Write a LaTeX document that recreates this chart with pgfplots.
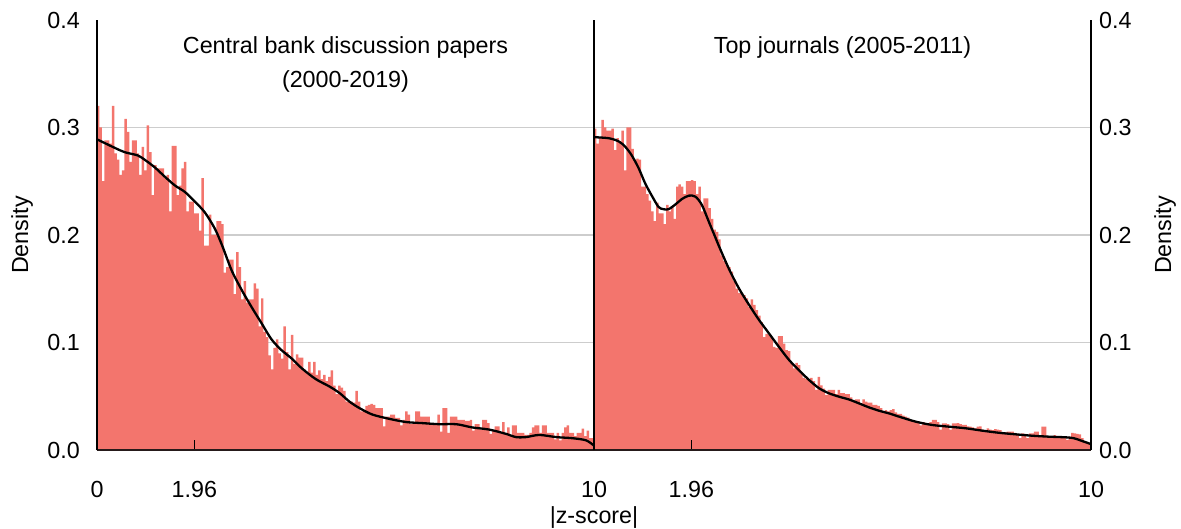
\documentclass[border=0pt]{standalone}
\usepackage{pgfplots}
\usepackage{pgfplotstable}
\pgfplotsset{compat=1.18}
\usepackage{fontspec}
\setmainfont{Liberation Sans}
\newcommand\chartfont{\fontsize{23.3bp}{28bp}\selectfont}
\definecolor{barfill}{RGB}{243,117,109}
\definecolor{gridgray}{RGB}{205,205,205}
\definecolor{baseline}{RGB}{38,26,26}

% Histogram bin heights, bins of width 0.05 on |z| in [0,10]
% (last row repeats the final bin so the step reaches x = 10)
\pgfplotstableread[row sep=\\, header=false]{
0.320\\ 0.300\\ 0.250\\ 0.288\\ 0.288\\ 0.285\\ 0.320\\ 0.276\\ 0.270\\ 0.256\\
0.260\\ 0.308\\ 0.296\\ 0.268\\ 0.288\\ 0.288\\ 0.276\\ 0.256\\ 0.282\\ 0.260\\
0.302\\ 0.277\\ 0.237\\ 0.265\\ 0.262\\ 0.262\\ 0.262\\ 0.253\\ 0.256\\ 0.222\\
0.283\\ 0.283\\ 0.237\\ 0.246\\ 0.262\\ 0.268\\ 0.222\\ 0.231\\ 0.231\\ 0.220\\
0.220\\ 0.204\\ 0.253\\ 0.190\\ 0.190\\ 0.219\\ 0.200\\ 0.200\\ 0.213\\ 0.213\\
0.210\\ 0.165\\ 0.170\\ 0.177\\ 0.177\\ 0.145\\ 0.184\\ 0.170\\ 0.140\\ 0.157\\
0.137\\ 0.140\\ 0.140\\ 0.155\\ 0.150\\ 0.115\\ 0.141\\ 0.110\\ 0.105\\ 0.088\\
0.075\\ 0.095\\ 0.103\\ 0.090\\ 0.085\\ 0.115\\ 0.091\\ 0.075\\ 0.107\\ 0.080\\
0.089\\ 0.086\\ 0.086\\ 0.075\\ 0.073\\ 0.082\\ 0.072\\ 0.082\\ 0.070\\ 0.074\\
0.066\\ 0.070\\ 0.064\\ 0.068\\ 0.074\\ 0.060\\ 0.052\\ 0.060\\ 0.058\\ 0.055\\
0.045\\ 0.045\\ 0.045\\ 0.044\\ 0.055\\ 0.045\\ 0.036\\ 0.037\\ 0.041\\ 0.042\\
0.043\\ 0.042\\ 0.039\\ 0.039\\ 0.039\\ 0.022\\ 0.031\\ 0.031\\ 0.033\\ 0.033\\
0.030\\ 0.030\\ 0.023\\ 0.028\\ 0.036\\ 0.033\\ 0.024\\ 0.024\\ 0.036\\ 0.036\\
0.031\\ 0.031\\ 0.031\\ 0.031\\ 0.024\\ 0.024\\ 0.024\\ 0.033\\ 0.017\\ 0.039\\
0.039\\ 0.016\\ 0.031\\ 0.031\\ 0.031\\ 0.028\\ 0.028\\ 0.028\\ 0.027\\ 0.027\\
0.028\\ 0.018\\ 0.024\\ 0.024\\ 0.019\\ 0.028\\ 0.028\\ 0.025\\ 0.015\\ 0.018\\
0.022\\ 0.022\\ 0.016\\ 0.026\\ 0.015\\ 0.021\\ 0.013\\ 0.023\\ 0.023\\ 0.016\\
0.016\\ 0.016\\ 0.014\\ 0.014\\ 0.016\\ 0.021\\ 0.023\\ 0.023\\ 0.016\\ 0.023\\
0.023\\ 0.016\\ 0.016\\ 0.016\\ 0.010\\ 0.016\\ 0.009\\ 0.016\\ 0.021\\ 0.023\\
0.016\\ 0.016\\ 0.013\\ 0.016\\ 0.016\\ 0.020\\ 0.013\\ 0.018\\ 0.011\\ 0.011\\
0.011\\
}\cbbars

\pgfplotstableread[row sep=\\, header=false]{
0.299\\ 0.285\\ 0.290\\ 0.307\\ 0.300\\ 0.297\\ 0.297\\ 0.299\\ 0.279\\ 0.290\\
0.287\\ 0.297\\ 0.260\\ 0.300\\ 0.300\\ 0.280\\ 0.270\\ 0.271\\ 0.270\\ 0.245\\
0.245\\ 0.238\\ 0.232\\ 0.222\\ 0.213\\ 0.230\\ 0.220\\ 0.220\\ 0.210\\ 0.228\\
0.222\\ 0.226\\ 0.215\\ 0.245\\ 0.247\\ 0.245\\ 0.238\\ 0.250\\ 0.250\\ 0.251\\
0.250\\ 0.238\\ 0.245\\ 0.222\\ 0.234\\ 0.234\\ 0.225\\ 0.215\\ 0.205\\ 0.203\\
0.196\\ 0.181\\ 0.176\\ 0.172\\ 0.170\\ 0.166\\ 0.157\\ 0.150\\ 0.146\\ 0.146\\
0.144\\ 0.141\\ 0.133\\ 0.140\\ 0.135\\ 0.130\\ 0.125\\ 0.119\\ 0.105\\ 0.108\\
0.107\\ 0.105\\ 0.096\\ 0.095\\ 0.106\\ 0.106\\ 0.099\\ 0.093\\ 0.092\\ 0.081\\
0.076\\ 0.081\\ 0.079\\ 0.071\\ 0.067\\ 0.066\\ 0.066\\ 0.067\\ 0.064\\ 0.056\\
0.068\\ 0.060\\ 0.057\\ 0.051\\ 0.056\\ 0.056\\ 0.056\\ 0.052\\ 0.056\\ 0.053\\
0.053\\ 0.052\\ 0.052\\ 0.049\\ 0.045\\ 0.047\\ 0.047\\ 0.043\\ 0.047\\ 0.045\\
0.044\\ 0.044\\ 0.042\\ 0.042\\ 0.041\\ 0.039\\ 0.036\\ 0.037\\ 0.036\\ 0.037\\
0.038\\ 0.035\\ 0.0335\\ 0.0335\\ 0.032\\ 0.031\\ 0.030\\ 0.028\\ 0.0265\\ 0.0265\\
0.0265\\ 0.023\\ 0.026\\ 0.025\\ 0.025\\ 0.026\\ 0.028\\ 0.028\\ 0.026\\ 0.019\\
0.0248\\ 0.0248\\ 0.024\\ 0.019\\ 0.0248\\ 0.0248\\ 0.025\\ 0.024\\ 0.0233\\ 0.0233\\
0.022\\ 0.0217\\ 0.021\\ 0.0202\\ 0.0217\\ 0.022\\ 0.019\\ 0.017\\ 0.0202\\ 0.019\\
0.0185\\ 0.0195\\ 0.019\\ 0.0185\\ 0.016\\ 0.0165\\ 0.017\\ 0.017\\ 0.017\\ 0.016\\
0.0146\\ 0.011\\ 0.0155\\ 0.015\\ 0.011\\ 0.0155\\ 0.0155\\ 0.017\\ 0.017\\ 0.013\\
0.0217\\ 0.0217\\ 0.013\\ 0.0124\\ 0.0124\\ 0.0139\\ 0.012\\ 0.0115\\ 0.0115\\ 0.011\\
0.0095\\ 0.0124\\ 0.016\\ 0.0155\\ 0.0149\\ 0.0145\\ 0.011\\ 0.0084\\ 0.007\\ 0.006\\
0.006\\
}\tjbars

\tikzset{gridrules/.style={gridgray, line width=1.5bp}}

\pgfplotsset{
  panel/.style={
    scale only axis, width=497bp, height=430bp,
    xmin=0, xmax=10, ymin=0, ymax=0.4,
    axis on top, clip=false,
    separate axis lines,
    axis x line*=bottom, axis y line*=box,
    x axis line style={draw=baseline, line width=2.8bp, -},
    y axis line style={draw=black, line width=1.8bp, -},
    ytick={0,0.1,0.2,0.3,0.4},
    /pgf/number format/assume math mode=true,
    yticklabel={\pgfmathprintnumber[fixed,fixed zerofill,precision=1]{\tick}},
    ytick style={draw=none},
    xtick style={draw=black, line width=1.4bp},
    tick align=inside, major tick length=10bp,
    tick label style={font=\chartfont},
    xticklabel style={anchor=north, inner sep=0pt, yshift=-31bp},
  },
  bars/.style={const plot mark left, fill=barfill, draw=none},
  kde/.style={black, line width=2.3bp, smooth, tension=0.5},
}

\begin{document}
\begin{tikzpicture}[font=\chartfont]
\path[use as bounding box] (-97bp,-79bp) rectangle (1084bp,450bp);

% Central bank discussion papers
\begin{axis}[panel,
  xtick={0,1.96,10}, xticklabels={0,1.96,10},
  yticklabel style={anchor=east, inner sep=0pt, xshift=-17bp}]
  \draw[gridrules] (axis cs:0,0.1) -- (axis cs:10,0.1);
  \draw[gridrules] (axis cs:0,0.2) -- (axis cs:10,0.2);
  \draw[gridrules] (axis cs:0,0.3) -- (axis cs:10,0.3);
  \addplot[bars] table[x expr=\coordindex*0.05, y index=0] {\cbbars} \closedcycle;
  \addplot[kde] coordinates {
    (0,0.289)(0.36,0.281)(0.56,0.277)(0.82,0.274)(0.96,0.270)(1.16,0.263)
    (1.37,0.254)(1.57,0.246)(1.77,0.240)(1.97,0.231)(2.17,0.221)(2.37,0.206)
    (2.52,0.190)(2.71,0.167)(2.91,0.149)(3.11,0.133)(3.31,0.118)(3.51,0.103)
    (3.71,0.093)(3.92,0.085)(4.12,0.076)(4.40,0.066)(4.68,0.059)(4.88,0.053)
    (5.08,0.045)(5.28,0.039)(5.54,0.033)(5.88,0.029)(6.22,0.026)(6.55,0.025)
    (6.89,0.024)(7.23,0.024)(7.55,0.021)(7.89,0.019)(8.23,0.015)(8.43,0.012)
    (8.63,0.012)(8.90,0.014)(9.24,0.012)(9.56,0.011)(9.84,0.009)(10,0.004)};
  \node at ([yshift=-27bp]rel axis cs:0.5,1) {Central bank discussion papers};
  \node at ([yshift=-61bp]rel axis cs:0.5,1) {(2000-2019)};
  \node[rotate=90] at ([xshift=-75bp]rel axis cs:0,0.5) {Density};
  \node at ([yshift=-68bp]rel axis cs:1,0) {|z-score|};
\end{axis}

% Top journals
\begin{axis}[panel, at={(497bp,0)},
  xtick={1.96,10}, xticklabels={1.96,10},
  yticklabel pos=right,
  yticklabel style={anchor=west, inner sep=0pt, xshift=8bp}]
  \draw[gridrules] (axis cs:0,0.1) -- (axis cs:10,0.1);
  \draw[gridrules] (axis cs:0,0.2) -- (axis cs:10,0.2);
  \draw[gridrules] (axis cs:0,0.3) -- (axis cs:10,0.3);
  \addplot[bars] table[x expr=\coordindex*0.05, y index=0] {\tjbars} \closedcycle;
  \addplot[kde] coordinates {
    (0,0.291)(0.30,0.290)(0.50,0.287)(0.63,0.282)(0.76,0.274)(0.90,0.262)
    (1.03,0.248)(1.17,0.236)(1.30,0.226)(1.40,0.224)(1.50,0.224)(1.64,0.2285)
    (1.77,0.2335)(1.91,0.2366)(2.04,0.2357)(2.17,0.228)(2.31,0.2124)(2.44,0.198)
    (2.52,0.189)(2.72,0.168)(2.92,0.150)(3.12,0.135)(3.32,0.121)(3.52,0.1085)
    (3.72,0.096)(3.92,0.084)(4.12,0.0744)(4.33,0.065)(4.53,0.0574)(4.73,0.0527)
    (4.93,0.0496)(5.13,0.047)(5.33,0.0434)(5.53,0.0397)(5.73,0.0366)(5.94,0.034)
    (6.14,0.031)(6.47,0.0264)(6.80,0.0233)(7.14,0.0217)(7.48,0.0202)(7.81,0.018)
    (8.15,0.016)(8.48,0.0146)(8.81,0.0133)(9.15,0.0124)(9.49,0.0118)(9.66,0.0109)
    (9.82,0.0084)(10,0.0055)};
  \node at ([yshift=-27bp]rel axis cs:0.5,1) {Top journals (2005-2011)};
  \node[rotate=90] at ([xshift=74bp]rel axis cs:1,0.5) {Density};
\end{axis}
\end{tikzpicture}
\end{document}
